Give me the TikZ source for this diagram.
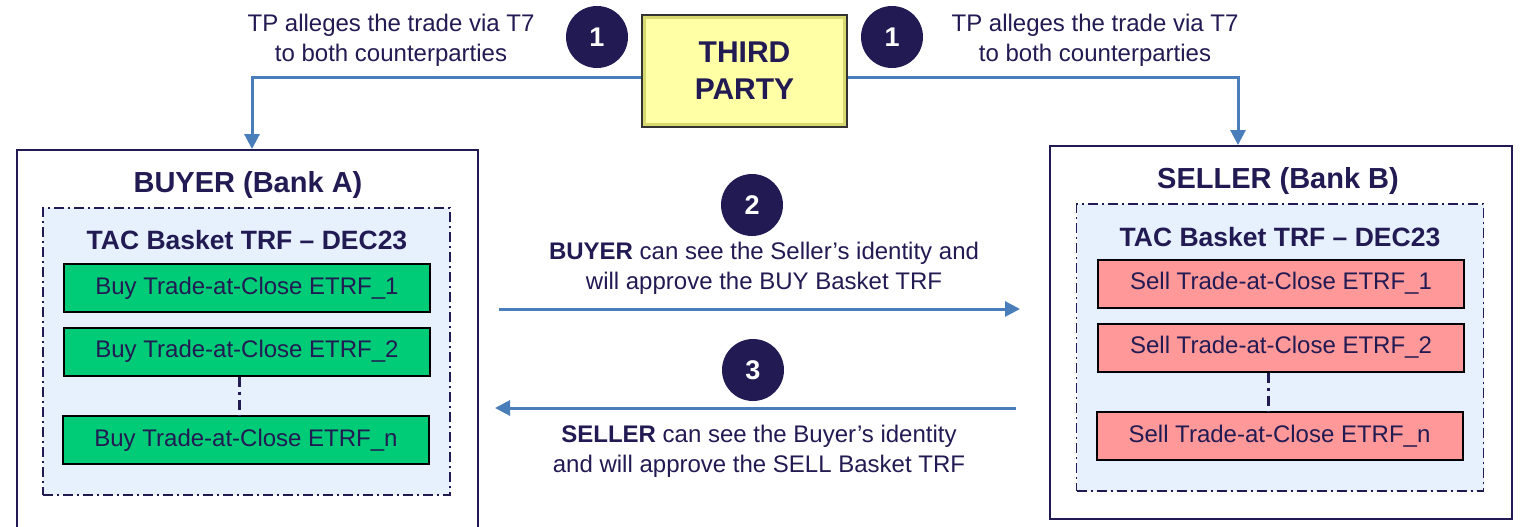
\documentclass[tikz,border=0pt]{standalone}
\usepackage{fontspec}
\setmainfont{Liberation Sans}
\usetikzlibrary{arrows.meta}
\definecolor{navy}{HTML}{221A52}
\definecolor{flowblue}{HTML}{4A7EBB}
\definecolor{buygreen}{HTML}{00CC78}
\definecolor{sellred}{HTML}{FF9999}
\definecolor{basketblue}{HTML}{E6F1FD}
\definecolor{tpyellow}{HTML}{FFFFA6}
\definecolor{tpedge}{HTML}{D8D870}
\begin{document}
\begin{tikzpicture}[x=1pt, y=-1pt, every node/.style={inner sep=0pt, text=navy},
	bank/.style={rectangle, draw=navy, line width=2pt, fill=white},
	basket/.style={rectangle, draw=navy, line width=1.8pt, fill=basketblue, dash pattern=on 10pt off 4pt on 2pt off 4pt, minimum width=407pt, minimum height=287pt},
	trade/.style={rectangle, draw=black, line width=2pt, minimum width=366pt, minimum height=48pt, font=\fontsize{24}{28}\selectfont},
	stepnum/.style={circle, fill=navy, minimum size=62pt, text=white, font=\bfseries\fontsize{27}{30}\selectfont},
	note/.style={align=center, font=\fontsize{24}{30}\selectfont},
	title/.style={font=\bfseries\fontsize{29}{32}\selectfont},
	flow/.style={draw=flowblue, line width=3pt, -{Triangle[length=15pt,width=15pt]}},
	dots/.style={draw=navy, line width=3pt, dash pattern=on 10pt off 5pt on 3pt off 5pt}]
	\clip (0,0) rectangle (1521,527);
	\fill[white] (0,0) rectangle (1521,527);

	% third party
	\node (tp) at (744.5,71) [rectangle, draw=black!80, line width=2pt, fill=tpyellow, minimum width=205pt, minimum height=112pt, align=center, font=\bfseries\fontsize{30}{37}\selectfont,
		path picture={\draw[tpedge, line width=8pt] (path picture bounding box.south west) rectangle (path picture bounding box.north east);}] {THIRD\\PARTY};
	\node (s1a) at (597,37) [stepnum] {1};
	\node (s1b) at (892,37) [stepnum] {1};
	\node (t1a) at (391,40) [note] {TP alleges the trade via T7\\to both counterparties};
	\node (t1b) at (1095,40) [note] {TP alleges the trade via T7\\to both counterparties};

	% buyer
	\node (buyer) at (247.5,355) [bank, minimum width=461pt, minimum height=410pt] {};
	\node (buyertitle) at (248,185) [title] {BUYER (Bank A)};
	\node (buybasket) at (246.5,351.5) [basket] {};
	\node (buybaskettitle) at (247,240) [title, font=\bfseries\fontsize{26.5}{30}\selectfont] {TAC Basket TRF -- DEC23};
	\node (b1) at (247,288) [trade, fill=buygreen] {Buy Trade-at-Close ETRF\_1};
	\node (b2) at (247,351.5) [trade, fill=buygreen] {Buy Trade-at-Close ETRF\_2};
	\node (bn) at (246,440) [trade, fill=buygreen] {Buy Trade-at-Close ETRF\_n};

	% seller
	\node (seller) at (1281,332.5) [bank, minimum width=462pt, minimum height=373pt] {};
	\node (sellertitle) at (1278,181) [title] {SELLER (Bank B)};
	\node (sellbasket) at (1280,347.5) [basket] {};
	\node (sellbaskettitle) at (1280,237) [title, font=\bfseries\fontsize{26.5}{30}\selectfont] {TAC Basket TRF -- DEC23};
	\node (r1) at (1281,283.5) [trade, fill=sellred] {Sell Trade-at-Close ETRF\_1};
	\node (r2) at (1281,347.5) [trade, fill=sellred] {Sell Trade-at-Close ETRF\_2};
	\node (rn) at (1279.5,436) [trade, fill=sellred] {Sell Trade-at-Close ETRF\_n};

	\draw[dots] ([xshift=-8pt]b2.south) to ([xshift=-7pt]bn.north);
	\draw[dots] ([xshift=-13pt]r2.south) to ([xshift=-11.5pt]rn.north);

	% allege
	\draw[flow] ([yshift=-7pt]tp.west) -| ([xshift=4.5pt]buyer.north);
	\draw[flow] ([yshift=-7pt]tp.east) -| ([xshift=-43pt]seller.north);

	% approvals
	\node (s2) at (752,205) [stepnum] {2};
	\node (t2) at (764,268) [note] {\textbf{BUYER} can see the Seller’s identity and\\will approve the BUY Basket TRF};
	\coordinate (a2s) at (499,309);
	\coordinate (a2e) at (1020,309);
	\draw[flow] (a2s) to (a2e);

	\node (s3) at (753,370) [stepnum] {3};
	\coordinate (a3s) at (1016,408);
	\coordinate (a3e) at (495,408);
	\draw[flow] (a3s) to (a3e);
	\node (t3) at (759,451) [note] {\textbf{SELLER} can see the Buyer’s identity\\and will approve the SELL Basket TRF};
\end{tikzpicture}
\end{document}
